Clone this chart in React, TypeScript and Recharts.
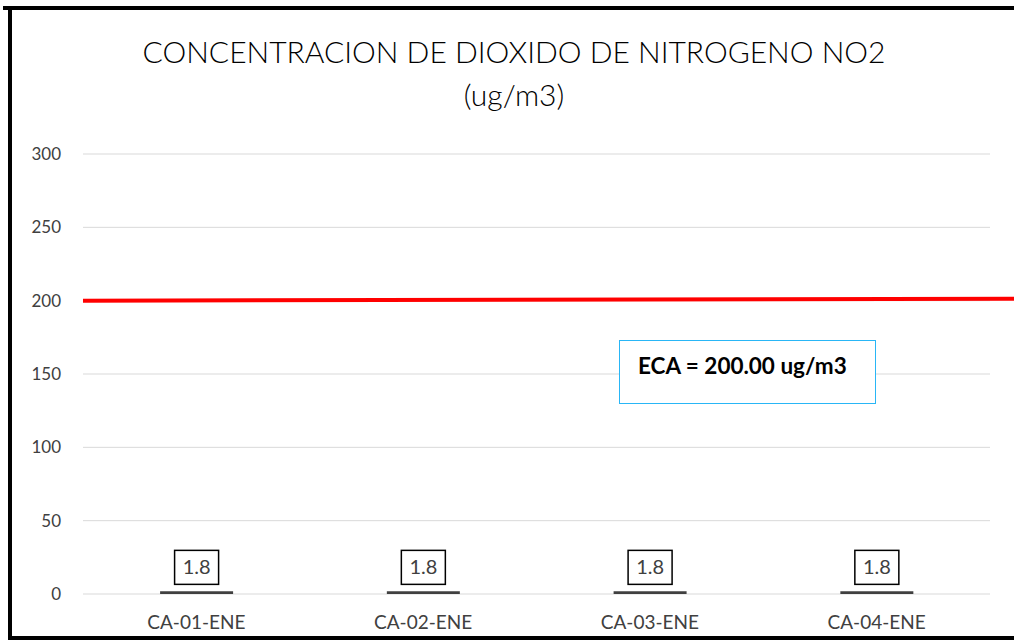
import React from "react";
import {
  BarChart,
  Bar,
  XAxis,
  YAxis,
  CartesianGrid,
  ReferenceLine,
  LabelList,
} from "recharts";

const estaciones = ["CA-01-ENE", "CA-02-ENE", "CA-03-ENE", "CA-04-ENE"];
const no2Valores = [1.8, 1.8, 1.8, 1.8];
const ejeYTicks = [0, 50, 100, 150, 200, 250, 300];
const ECA = 200;

const data = estaciones.map((name, i) => ({ name, no2: no2Valores[i] }));

const FONT = "Lato, 'Liberation Sans', sans-serif";

function CajaValor(props: any) {
  const { x, y, width, value } = props;
  const cx = x + width / 2;
  const w = 44;
  const h = 34;
  const bottom = y - 7;
  return (
    <g>
      <rect x={cx - w / 2} y={bottom - h} width={w} height={h} fill="#fff" stroke="#000" strokeWidth={1.5} />
      <text x={cx} y={bottom - h / 2 + 7} textAnchor="middle" fontSize={20} fontFamily={FONT} fill="#404040">
        {value}
      </text>
    </g>
  );
}

function LineaECA(props: any) {
  const { x1, y1, x2, y2 } = props;
  return <line x1={x1} y1={y1} x2={x2 + 24} y2={y2 - 2} stroke="#ff0000" strokeWidth={4} />;
}

export default function App() {
  return (
    <div style={{ position: "absolute", left: 0, top: 0, width: 1014, height: 640, background: "#fff", overflow: "hidden", fontFamily: FONT }}>
      {/* marco */}
      <div style={{ position: "absolute", left: 3, top: 6, width: 1011, height: 4, background: "#000" }} />
      <div style={{ position: "absolute", left: 8, top: 6, width: 4, height: 634, background: "#000" }} />
      <div style={{ position: "absolute", left: 8, top: 636, width: 1006, height: 4, background: "#000" }} />

      <div style={{ position: "absolute", left: 0, top: 30, width: 1028, textAlign: "center", fontSize: 30, fontWeight: 300, color: "#000", lineHeight: "43px" }}>
        CONCENTRACION DE DIOXIDO DE NITROGENO NO2
        <br />
        (ug/m3)
      </div>

      <BarChart
        width={1014}
        height={640}
        data={data}
        margin={{ top: 154, right: 24, bottom: 16, left: 0 }}
        barCategoryGap="34%"
      >
        <CartesianGrid vertical={false} stroke="#d9d9d9" />
        <XAxis
          dataKey="name"
          axisLine={false}
          tickLine={false}
          tickSize={0}
          tickMargin={22}
          height={30}
          tick={{ fontSize: 19, fill: "#404040", fontFamily: FONT }}
        />
        <YAxis
          domain={[0, 300]}
          ticks={ejeYTicks}
          axisLine={false}
          tickLine={false}
          tickSize={0}
          tickMargin={22}
          width={83}
          tick={{ fontSize: 17, fill: "#404040", fontFamily: FONT }}
        />
        <ReferenceLine y={ECA} shape={LineaECA} />
        <Bar dataKey="no2" fill="#404040" isAnimationActive={false}>
          <LabelList dataKey="no2" content={CajaValor} />
        </Bar>
      </BarChart>

      <div
        style={{
          position: "absolute",
          left: 619,
          top: 340,
          width: 257,
          height: 64,
          border: "1.5px solid #29b6f6",
          background: "#fff",
          boxSizing: "border-box",
        }}
      >
        <div style={{ position: "absolute", left: 18, top: 11, fontSize: 22.5, fontWeight: 700, color: "#000", whiteSpace: "nowrap" }}>
          ECA = 200.00 ug/m3
        </div>
      </div>
    </div>
  );
}
